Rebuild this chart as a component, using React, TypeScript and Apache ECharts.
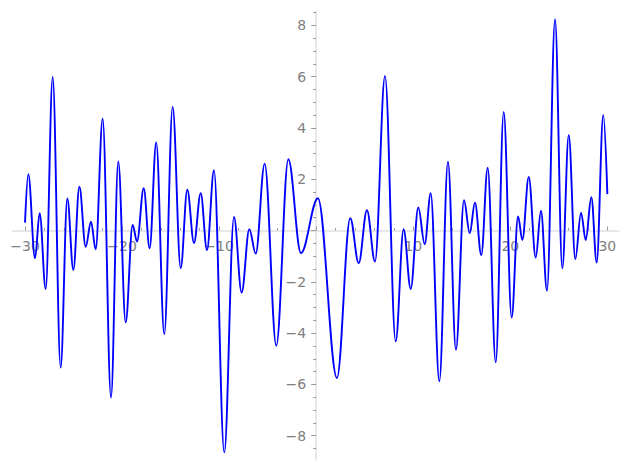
import React, { useEffect, useRef } from "react";
import * as echarts from "echarts";

// Extrema of the curve (x, y)
const xs: number[] = [
  -30.0, -29.66, -28.97, -28.49, -27.87, -27.15, -26.33, -25.64, -25.02, -24.4,
  -23.75, -23.2, -22.72, -22.0, -21.14, -20.39, -19.63, -18.91, -18.46, -17.77,
  -17.16, -16.48, -15.65, -14.79, -13.96, -13.28, -12.59, -11.9, -11.25, -10.53,
  -9.47, -8.47, -7.68, -6.89, -6.23, -5.31, -4.11, -2.87, -1.57, 0.18,
  2.14, 3.51, 4.38, 5.23, 6.06, 7.09, 8.19, 9.01, 9.74, 10.52,
  11.18, 11.8, 12.69, 13.58, 14.4, 15.23, 15.82, 16.36, 17.01, 17.67,
  18.5, 19.32, 20.14, 20.8, 21.24, 21.9, 22.62, 23.16, 23.78, 24.61,
  25.36, 26.02, 26.7, 27.29, 27.77, 28.35, 28.9, 29.58, 30.0,
];
const ys: number[] = [
  0.31, 2.2, -1.08, 0.68, -2.28, 5.99, -5.34, 1.25, -1.54, 1.71,
  -0.63, 0.34, -0.73, 4.36, -6.51, 2.69, -3.58, 0.22, -0.43, 1.65,
  -0.69, 3.43, -4.04, 4.82, -1.47, 1.59, -0.49, 1.46, -0.76, 2.35,
  -8.65, 0.53, -2.42, 0.05, -0.9, 2.61, -4.49, 2.78, -0.88, 1.26,
  -5.75, 0.48, -1.27, 0.79, -1.21, 6.03, -4.32, 0.05, -2.28, 0.9,
  -0.53, 1.46, -5.88, 2.68, -4.65, 1.18, -0.1, 1.09, -0.96, 2.45,
  -5.14, 4.62, -3.39, 0.55, -0.37, 2.09, -1.05, 0.77, -2.35, 8.24,
  -1.48, 3.72, -1.11, 0.7, -0.37, 1.3, -1.25, 4.5, 1.42,
];

const xLabels: number[] = [-30, -20, -10, 10, 20, 30];
const xMajorTicks: number[] = [-30, -20, -10, 0, 10, 20, 30];
const xMinorTicks: number[] = [
  -28, -26, -24, -22, -18, -16, -14, -12, -8, -6, -4, -2,
  2, 4, 6, 8, 12, 14, 16, 18, 22, 24, 26, 28,
];
const yLabels: number[] = [-8, -6, -4, -2, 2, 4, 6, 8];
const yMajorTicks: number[] = [-8, -6, -4, -2, 0, 2, 4, 6, 8];
const yMinorTicks: number[] = [
  -8.5, -7.5, -7, -6.5, -5.5, -5, -4.5, -3.5, -3, -2.5, -1.5, -1, -0.5,
  0.5, 1, 1.5, 2.5, 3, 3.5, 4.5, 5, 5.5, 6.5, 7, 7.5, 8.5,
];

const X_MIN = -31.3;
const X_MAX = 31.2;
const Y_MIN = -8.95;
const Y_MAX = 8.52;

const W = 627;
const H = 470;
const G_LEFT = 12.4;
const G_RIGHT = 8;
const G_TOP = 12;
const G_BOTTOM = 9.9;

const fmt = (v: number) => (v < 0 ? "\u2212" + Math.abs(v) : String(v));

export default function App() {
  const ref = useRef<HTMLDivElement>(null);
  useEffect(() => {
    if (!ref.current) return;
    const chart = echarts.init(ref.current, undefined, { renderer: "svg" });
    const labelStyle = {
      color: "#808080",
      fontSize: 14,
      fontFamily: "DejaVu Sans",
    };
    const lineColor = "#e0e0e0";
    const tickColor = "#999999";
    const gw = W - G_LEFT - G_RIGHT;
    const gh = H - G_TOP - G_BOTTOM;
    const zeroX = G_LEFT + ((0 - X_MIN) / (X_MAX - X_MIN)) * gw;
    const zeroY = G_TOP + ((Y_MAX - 0) / (Y_MAX - Y_MIN)) * gh;
    const hidden = { show: false };
    chart.setOption({
      animation: false,
      backgroundColor: "#ffffff",
      grid: [
        { left: G_LEFT, right: G_RIGHT, top: G_TOP, bottom: G_BOTTOM, outerBoundsMode: "none", containLabel: false },
        { left: G_LEFT, right: G_RIGHT, top: zeroY, height: 100, outerBoundsMode: "none", containLabel: false },
        { left: zeroX, right: G_RIGHT, top: G_TOP, bottom: G_BOTTOM, outerBoundsMode: "none", containLabel: false },
      ],
      xAxis: [
        { type: "value", gridIndex: 0, min: X_MIN, max: X_MAX, ...hidden },
        {
          type: "value",
          gridIndex: 1,
          min: X_MIN,
          max: X_MAX,
          position: "top",
          axisLine: { show: true, onZero: false, lineStyle: { color: lineColor, width: 1.5 } },
          axisTick: { show: true, inside: false, length: 4, customValues: xMajorTicks, lineStyle: { color: tickColor, width: 1 } },
          axisLabel: { show: true, inside: true, margin: 8, customValues: xLabels, formatter: fmt, ...labelStyle },
          splitLine: { show: false },
        },
        {
          type: "value",
          gridIndex: 1,
          min: X_MIN,
          max: X_MAX,
          position: "top",
          axisLine: { show: false, onZero: false },
          axisTick: { show: true, inside: false, length: 2.5, customValues: xMinorTicks, lineStyle: { color: tickColor, width: 1 } },
          axisLabel: { show: false },
          splitLine: { show: false },
        },
        { type: "value", gridIndex: 2, min: X_MIN, max: X_MAX, ...hidden },
      ],
      yAxis: [
        { type: "value", gridIndex: 0, min: Y_MIN, max: Y_MAX, ...hidden },
        { type: "value", gridIndex: 1, min: 0, max: 1, ...hidden },
        {
          type: "value",
          gridIndex: 2,
          min: Y_MIN,
          max: Y_MAX,
          position: "left",
          axisLine: { show: true, onZero: false, lineStyle: { color: lineColor, width: 1.5 } },
          axisTick: { show: true, inside: false, length: 5, customValues: yMajorTicks, lineStyle: { color: tickColor, width: 1 } },
          axisLabel: { show: true, margin: 10, customValues: yLabels, formatter: fmt, ...labelStyle },
          splitLine: { show: false },
        },
        {
          type: "value",
          gridIndex: 2,
          min: Y_MIN,
          max: Y_MAX,
          position: "left",
          axisLine: { show: false, onZero: false },
          axisTick: { show: true, inside: false, length: 3, customValues: yMinorTicks, lineStyle: { color: tickColor, width: 1 } },
          axisLabel: { show: false },
          splitLine: { show: false },
        },
      ],
      series: [
        {
          type: "line",
          xAxisIndex: 0,
          yAxisIndex: 0,
          data: xs.map((x, i) => [x, ys[i]]),
          showSymbol: false,
          symbol: "none",
          smooth: 0.36,
          smoothMonotone: "x",
          clip: false,
          z: 5,
          lineStyle: { color: "#0000ff", width: 1.9 },
          itemStyle: { color: "#0000ff" },
        },
      ],
    });
    return () => chart.dispose();
  }, []);
  return (
    <div
      ref={ref}
      style={{ position: "fixed", left: 0, top: 0, width: W, height: H }}
    />
  );
}
